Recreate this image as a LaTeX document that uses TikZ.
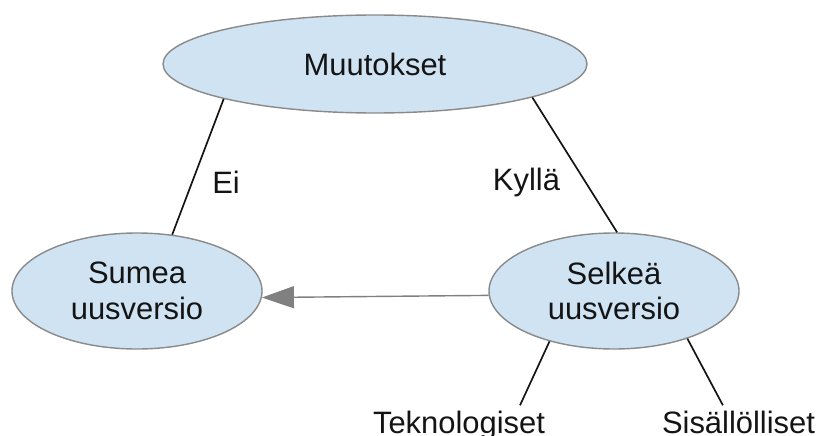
\documentclass[tikz,border=0pt]{standalone}
\usepackage{fontspec}
\setmainfont{Liberation Sans}
\usepackage{tikz}
\usetikzlibrary{positioning, arrows.meta, shapes.geometric, calc}
\definecolor{bubbleFill}{HTML}{CFE3F3}
\definecolor{bubbleEdge}{HTML}{8A8A8A}
\definecolor{linkGray}{HTML}{808080}
\definecolor{inkDark}{HTML}{141414}

\begin{document}
\begin{tikzpicture}[
  every node/.style={font=\fontsize{22}{25.2}\selectfont, text=inkDark},
  bubble/.style={
    ellipse, draw=bubbleEdge, line width=1pt,
    fill=bubbleFill, inner sep=0pt, align=center,
    minimum width=#1, minimum height=2.9cm
  },
  bubble/.default=6.25cm,
  leaf/.style={anchor=base, inner sep=0.125cm},
  link/.style={inkDark, line width=1.2pt},
]

% Canvas
\useasboundingbox (0,0) rectangle (20.5,10.875);

% Ellipses
\node[bubble=10.6cm, minimum height=2.45cm] (muutokset) at (9.375,9.275) {Muutokset};
\node[bubble] (sumea) at (3.425,3.6) {Sumea\\uusversio};
\node[bubble] (selkea) at (15.35,3.6) {Selkeä\\uusversio};

% Leaf texts
\node[leaf] (tekno) at (11.475,0.05) {Teknologiset};
\node[leaf] (sisalto) at (18.4625,0.05) {Sisällölliset};

% Edge labels
\node[anchor=base] (ei) at (5.65,6.05) {Ei};
\node[anchor=base] (kylla) at (13.1625,6.125) {Kyllä};

% Links
\draw[link] (muutokset.193.3) -- (sumea.58.7);
\draw[link] (muutokset.348.7) -- (selkea.87);
\draw[link] (selkea.218.6) -- ([xshift=1.525cm]tekno.north);
\draw[link] (selkea.327.2) -- ([xshift=-0.39cm]sisalto.north);

% Arrow between versions
\draw[linkGray, line width=1pt, -{Triangle[length=0.8cm, width=0.55cm]}]
  (selkea.182.3) -- (sumea.357.7);

\end{tikzpicture}
\end{document}
